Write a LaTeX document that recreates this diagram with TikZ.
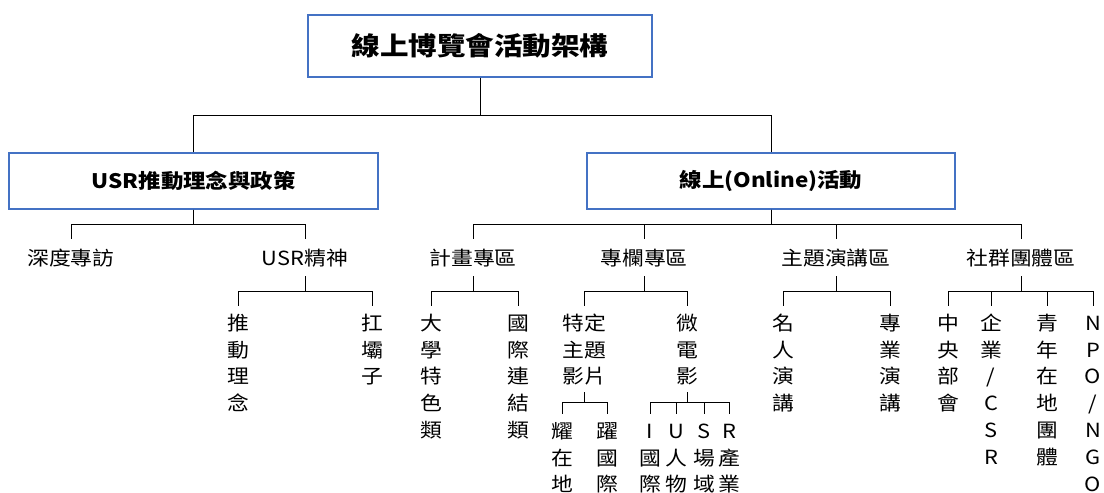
\documentclass[tikz,border=0pt]{standalone}
\usepackage{fontspec}
\setmainfont[FakeStretch=1.12]{Noto Sans CJK TC}
\definecolor{boxblue}{RGB}{68,114,196}
\newcommand{\firstgap}{\rule{0pt}{24pt}}
\newcommand{\lastgap}{\rule[-8pt]{0pt}{8pt}}
\begin{document}
\begin{tikzpicture}[x=1pt,y=-1pt,
    box/.style={draw=boxblue, line width=1.1pt, fill=white, font=\fontsize{20}{24}\selectfont\bfseries,
      minimum width=368pt, minimum height=56pt, inner sep=0pt},
    lab/.style={font=\fontsize{19.5}{27}\selectfont, anchor=north, inner sep=0pt,
      text height=26pt, text depth=11pt},
    vt/.style={font=\fontsize{19.5}{26.8}\selectfont, anchor=north, inner sep=0pt, align=center},
    link/.style={line width=0.8pt}]
    \useasboundingbox (0,0) rectangle (1104,493);

    % top box
    \node [box, minimum width=344pt, minimum height=62pt, font=\fontsize{25.5}{30}\selectfont\bfseries] (root) at (480,46) {線上博覽會活動架構};
    \node [box, minimum width=369pt] (usr) at (193.5,181) {USR推動理念與政策};
    \node [box] (online) at (771,181) {線上(Online)活動};
    \draw [link] (root.south) -- ++(0,38) -| (usr.north);
    \draw [link] (root.south) -- ++(0,38) -| (online.north);

    % USR side
    \node [lab] (interview) at (71,239) {深度專訪};
    \node [lab] (spirit) at (305,239) {USR精神};
    \draw [link] (usr.south) -- ++(0,15) -| (interview.north);
    \draw [link] (usr.south) -- ++(0,15) -| (spirit.north);
    \node [vt] (idea) at (238,306) {\firstgap 推\\動\\理\\念};
    \node [vt] (star) at (372,306) {\firstgap 扛\\壩\\子};
    \draw [link] (spirit.south) -- ++(0,15) -| (idea.north);
    \draw [link] (spirit.south) -- ++(0,15) -| (star.north);

    % online side
    \node [lab] (plan) at (473,239) {計畫專區};
    \node [lab] (column) at (644,239) {專欄專區};
    \node [lab] (talk) at (836,239) {主題演講區};
    \node [lab] (group) at (1021,239) {社群團體區};
    \foreach \n in {plan,column,talk,group}
        \draw [link] (online.south) -- ++(0,15) -| (\n.north);

    \node [vt] (uni) at (431,306) {\firstgap 大\\學\\特\\色\\類};
    \node [vt] (intl) at (518,306) {\firstgap 國\\際\\連\\結\\類};
    \draw [link] (plan.south) -- ++(0,15) -| (uni.north);
    \draw [link] (plan.south) -- ++(0,15) -| (intl.north);

    \node [vt] (film) at (584,306) {\firstgap 特定\\主題\\影片\lastgap};
    \node [vt] (micro) at (687,306) {\firstgap 微\\電\\影\lastgap};
    \draw [link] (column.south) -- ++(0,15) -| (film.north);
    \draw [link] (column.south) -- ++(0,15) -| (micro.north);

    \node [vt] (local) at (562,414) {\firstgap 耀\\在\\地};
    \node [vt] (world) at (607,414) {\firstgap 躍\\國\\際};
    \draw [link] (film.south) -- ++(0,10) -| (local.north);
    \draw [link] (film.south) -- ++(0,10) -| (world.north);

    \node [vt] (mi) at (650,414) {\firstgap I\\國\\際};
    \node [vt] (mu) at (676,414) {\firstgap U\\人\\物};
    \node [vt] (ms) at (704,414) {\firstgap S\\場\\域};
    \node [vt] (mr) at (729,414) {\firstgap R\\產\\業};
    \foreach \n in {mi,mu,ms,mr}
        \draw [link] (micro.south) -- ++(0,10) -| (\n.north);

    \node [vt] (famous) at (783,306) {\firstgap 名\\人\\演\\講};
    \node [vt] (expert) at (890,306) {\firstgap 專\\業\\演\\講};
    \draw [link] (talk.south) -- ++(0,15) -| (famous.north);
    \draw [link] (talk.south) -- ++(0,15) -| (expert.north);

    \node [vt] (gov) at (948,306) {\firstgap 中\\央\\部\\會};
    \node [vt] (csr) at (991,306) {\firstgap 企\\業\\/\\C\\S\\R};
    \node [vt] (youth) at (1047,306) {\firstgap 青\\年\\在\\地\\團\\體};
    \node [vt] (ngo) at (1093,306) {\firstgap N\\P\\O\\/\\N\\G\\O};
    \foreach \n in {gov,csr,youth,ngo}
        \draw [link] (group.south) -- ++(0,15) -| (\n.north);
\end{tikzpicture}
\end{document}
